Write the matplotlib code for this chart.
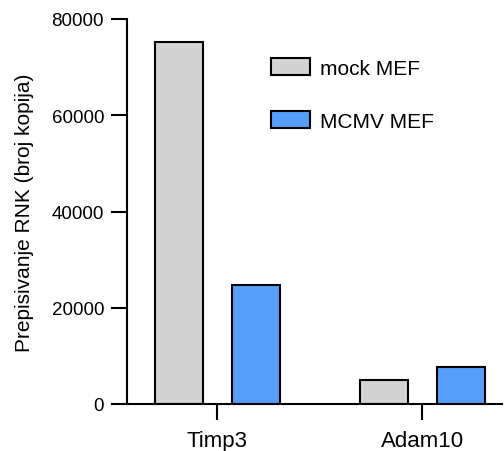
import numpy as np
import matplotlib
matplotlib.use('Agg')
import matplotlib.pyplot as plt

genes = ['Timp3', 'Adam10']
mock_mef = [75300, 5000]
mcmv_mef = [24700, 7600]
series_labels = ['mock MEF', 'MCMV MEF']
yticks = [0, 20000, 40000, 60000, 80000]


def main():
    plt.rcParams['font.family'] = ['Liberation Sans', 'DejaVu Sans']
    fig = plt.figure(figsize=(5.04, 4.52), dpi=100)
    ax = fig.add_axes([127 / 504, 1 - 405 / 452, 375 / 504, 385 / 452])

    x = np.arange(len(genes))
    width = 0.234
    offset = 0.187
    ax.bar(x - offset, mock_mef, width, color='#d3d3d3', edgecolor='black',
           linewidth=1.5, label=series_labels[0])
    ax.bar(x + offset, mcmv_mef, width, color='#559ffa', edgecolor='black',
           linewidth=1.5, label=series_labels[1])

    ax.set_xlim(-0.441, 1.388)
    ax.set_ylim(0, 80000)
    ax.set_yticks(yticks)
    ax.set_yticklabels([str(t) for t in yticks], fontsize=13.5)
    ax.set_xticks(x)
    ax.set_xticklabels(genes, fontsize=16)
    ax.set_ylabel('Prepisivanje RNK (broj kopija)', fontsize=15, labelpad=13)

    for side in ('top', 'right'):
        ax.spines[side].set_visible(False)
    for side in ('left', 'bottom'):
        ax.spines[side].set_linewidth(1.5)
    ax.tick_params(axis='both', width=1.5, length=11.5, direction='out')
    ax.tick_params(axis='y', pad=5)
    ax.tick_params(axis='x', pad=7)

    ax.legend(loc='upper left', bbox_to_anchor=(271 / 504, 1 - 59 / 452),
              bbox_transform=fig.transFigure, frameon=False, fontsize=15,
              handlelength=1.87, handleheight=0.9, handletextpad=0.5,
              labelspacing=1.58, borderpad=0, borderaxespad=0)

    plt.savefig('out.png', dpi=100)


if __name__ == '__main__':
    main()
